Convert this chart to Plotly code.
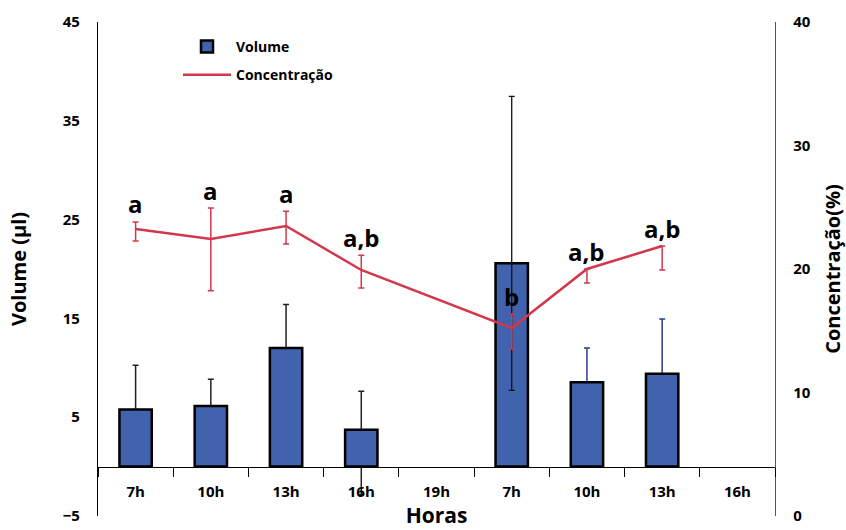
import plotly.graph_objects as go

# ---------------- data ----------------
hours = ["7h", "10h", "13h", "16h", "19h", "7h", "10h", "13h", "16h"]
volume = [5.77, 6.14, 12.01, 3.74, None, 20.58, 8.53, 9.41, None]
volume_err_plus = [4.48, 2.70, 4.39, 3.88, None, 16.90, 3.48, 5.54, None]
volume_err_minus = [0.0, 0.0, 0.0, 6.57, None, 12.86, 0.0, 0.0, None]

concentration = [23.24, 22.43, 23.48, 19.92, None, 15.22, 20.00, 21.86, None]
conc_err_plus = [0.57, 2.50, 1.20, 1.20, None, 1.13, 0.0, 0.0, None]
conc_err_minus = [0.97, 4.20, 1.46, 1.46, None, 1.70, 1.13, 1.94, None]

letters = ["a", "a", "a", "a,b", "", "b", "a,b", "a,b", ""]

# which bars have black error bars drawn behind / navy behind / black on top
black_behind_idx = [0, 1, 2, 3]
navy_behind_idx = [6, 7]
top_idx = [5]

vol_range = [-5, 45]
conc_range = [0, 40]

# ---------------- styles ----------------
BAR_COLOR = "#4162AC"
RED = "#D2384B"
FONT = "Open Sans"

x = list(range(len(hours)))

def pick(arr, idx):
    return [arr[i] for i in idx]

fig = go.Figure()

# error bars behind bars (black)
fig.add_trace(go.Bar(
    x=black_behind_idx, y=pick(volume, black_behind_idx), width=0.43,
    marker=dict(color="rgba(0,0,0,0)", line=dict(width=0)),
    error_y=dict(type="data", symmetric=False,
                 array=pick(volume_err_plus, black_behind_idx),
                 arrayminus=pick(volume_err_minus, black_behind_idx),
                 color="#222222", thickness=1.5, width=3),
    showlegend=False, hoverinfo="skip"))
# error bars behind bars (navy)
fig.add_trace(go.Bar(
    x=navy_behind_idx, y=pick(volume, navy_behind_idx), width=0.43,
    marker=dict(color="rgba(0,0,0,0)", line=dict(width=0)),
    error_y=dict(type="data", symmetric=False,
                 array=pick(volume_err_plus, navy_behind_idx),
                 arrayminus=pick(volume_err_minus, navy_behind_idx),
                 color="#2B3A8C", thickness=1.5, width=3),
    showlegend=False, hoverinfo="skip"))

# visible bars
fig.add_trace(go.Bar(
    x=x, y=volume, width=0.43, name="Volume",
    marker=dict(color=BAR_COLOR, line=dict(color="black", width=2.5)),
    legendgroup="v"))

# error bar drawn over the bar
fig.add_trace(go.Scatter(
    x=top_idx, y=pick(volume, top_idx), mode="markers",
    marker=dict(opacity=0, size=1),
    error_y=dict(type="data", symmetric=False,
                 array=pick(volume_err_plus, top_idx),
                 arrayminus=pick(volume_err_minus, top_idx),
                 color="#111111", thickness=1.3, width=3),
    showlegend=False, hoverinfo="skip"))

# concentration line
fig.add_trace(go.Scatter(
    x=x, y=concentration, yaxis="y2", mode="lines", name="Concentração",
    connectgaps=True, line=dict(color=RED, width=2.5),
    error_y=dict(type="data", symmetric=False, array=conc_err_plus,
                 arrayminus=conc_err_minus, color=RED, thickness=1.5, width=3),
    legendgroup="c"))

for i, t in enumerate(letters):
    if t and concentration[i] is not None:
        fig.add_annotation(
            x=i, y=concentration[i] + conc_err_plus[i], xref="x", yref="y2",
            text=t, showarrow=False, yshift=18, yanchor="middle",
            font=dict(family=FONT, size=24, color="black", weight="bold"))

zero_pos = (0 - vol_range[0]) / (vol_range[1] - vol_range[0])

fig.update_layout(
    width=846, height=530,
    margin=dict(l=98, r=71, t=22, b=14),
    paper_bgcolor="white", plot_bgcolor="white",
    barmode="overlay",
    font=dict(family=FONT, color="black"),
    showlegend=True,
    legend=dict(x=(178 - 98) / 677, y=(516 - 31) / 494, xanchor="left", yanchor="top",
                bgcolor="rgba(0,0,0,0)", itemwidth=48, tracegroupgap=7,
                font=dict(family=FONT, size=14, color="black", weight="bold")),
    xaxis=dict(
        range=[-0.5, len(hours) - 0.5],
        tickmode="array", tickvals=x, ticktext=hours,
        ticks="", showgrid=False, zeroline=False,
        showline=True, linecolor="black", linewidth=1.3,
        anchor="free", position=zero_pos,
        tickfont=dict(family=FONT, size=15, color="black", weight="bold"),
        ticklabelstandoff=11,
        minor=dict(tick0=0.5, dtick=1, ticks="outside", ticklen=9,
                   tickcolor="black", tickwidth=1.3, showgrid=False),
        title=dict(text="Horas", standoff=5,
                   font=dict(family=FONT, size=21, color="black", weight="bold")),
        automargin=False,
    ),
    yaxis=dict(
        range=vol_range, tick0=vol_range[0], dtick=10, tickmode="linear",
        ticks="", showgrid=False, zeroline=False,
        showline=True, linecolor="black", linewidth=1.3,
        tickfont=dict(family=FONT, size=15, color="black", weight="bold"),
        ticklabelstandoff=14,
        title=dict(text="Volume (µl)", standoff=30,
                   font=dict(family=FONT, size=20, color="black", weight="bold")),
        automargin=False,
    ),
    yaxis2=dict(
        range=conc_range, dtick=10, tickmode="linear",
        overlaying="y", side="right",
        ticks="", showgrid=False, zeroline=False,
        showline=True, linecolor="#555555", linewidth=1.3,
        tickfont=dict(family=FONT, size=15, color="black", weight="bold"),
        ticklabelstandoff=14,
        title=dict(text="Concentração(%)", standoff=18,
                   font=dict(family=FONT, size=20, color="black", weight="bold")),
        automargin=False,
    ),
)

fig.write_html("out.html", config={"displayModeBar": False},
               post_script="document.body.style.margin='0';")
